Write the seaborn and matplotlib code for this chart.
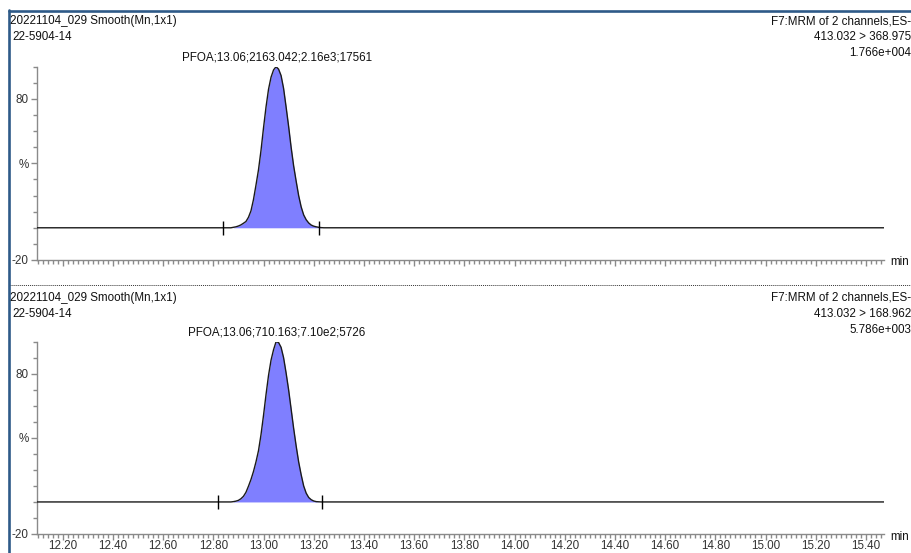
import matplotlib
matplotlib.use("Agg")
import matplotlib.pyplot as plt
from matplotlib.lines import Line2D
from matplotlib.ticker import MultipleLocator, FixedLocator, FixedFormatter, FormatStrFormatter
import pandas as pd
import seaborn as sns

# ---- chromatogram header text ----
sample_name = "20221104_029 Smooth(Mn,1x1)"
sample_id = "22-5904-14"
function_desc = "F7:MRM of 2 channels,ES-"
transitions = ["413.032 > 368.975", "413.032 > 168.962"]
max_intensity = ["1.766e+004", "5.786e+003"]
peak_labels = ["PFOA;13.06;2163.042;2.16e3;17561", "PFOA;13.06;710.163;7.10e2;5726"]

# ---- integration limits (min) ----
integration_start = [12.839, 12.820]
integration_end = [13.221, 13.234]

# ---- traces: retention time (min) vs relative intensity (%) ----
rt_min = [12.09,
          12.87, 12.88, 12.89, 12.90, 12.91, 12.92, 12.93, 12.94, 12.95, 12.96,
          12.97, 12.98, 12.99, 13.00, 13.01, 13.02, 13.03, 13.04, 13.05, 13.06,
          13.07, 13.08, 13.09, 13.10, 13.11, 13.12, 13.13, 13.14, 13.15, 13.16,
          13.17, 13.18, 13.19, 13.20, 13.21, 13.22, 13.23, 13.24,
          15.48]
pct_369 = [0.0,
           0.0, 0.3, 0.6, 1.1, 1.8, 2.8, 3.9, 6.5, 10.5, 17.5,
           26.5, 36.0, 48.0, 62.0, 75.0, 86.0, 93.5, 98.0, 100.0, 98.5,
           94.5, 86.5, 75.0, 63.0, 50.0, 38.5, 29.0, 20.0, 13.0, 8.0,
           5.0, 3.0, 1.7, 1.0, 0.6, 0.3, 0.1, 0.0,
           0.0]
pct_169 = [0.0,
           0.0, 0.2, 0.5, 1.0, 2.0, 3.5, 6.0, 9.8, 14.0, 19.0,
           25.0, 32.0, 42.0, 54.0, 67.0, 79.0, 88.5, 95.0, 100.0, 99.5,
           96.5, 90.0, 80.5, 70.0, 58.0, 46.0, 35.0, 25.0, 17.0, 10.0,
           5.5, 2.8, 1.4, 0.6, 0.2, 0.1, 0.0, 0.0,
           0.0]
traces = [pct_369, pct_169]

W, H = 912, 553
FRAME = "#2e5a88"
AXIS_GREY = "#8a8a8a"
FILL = "#7f7fff"
FONT = "Liberation Sans"
FS = 8.4

sns.set_style("ticks")
plt.rcParams["font.family"] = [FONT, "DejaVu Sans"]

fig = plt.figure(figsize=(W / 100, H / 100), dpi=100)


def fx(x):
    return x / W


def fy(y):
    return 1 - y / H


def panel(top_px, bottom_px, idx, show_xlabels):
    ax = fig.add_axes([fx(37), fy(bottom_px), (884 - 37) / W, (bottom_px - top_px) / H])
    ax.set_xlim(12.0976, 15.472)
    ax.set_ylim(-20, 100)
    ax.set_facecolor("none")

    df = pd.DataFrame({"rt": rt_min, "pct": traces[idx]})
    ax.fill_between(df["rt"], 0, df["pct"], where=df["pct"] > 0,
                    color=FILL, linewidth=0, zorder=1)
    sns.lineplot(data=df, x="rt", y="pct", ax=ax, color="#1a1a1a",
                 linewidth=1.0, estimator=None, sort=False, zorder=3)

    # integration markers
    ax.vlines([integration_start[idx], integration_end[idx]], -4.5, 4.5,
              color="black", linewidth=1.0, zorder=4)

    # peak annotation above the apex
    apex = df.loc[df["pct"].idxmax(), "rt"]
    ax.text(apex + 0.003, 105.5, peak_labels[idx], ha="center", va="center",
            fontsize=FS, color="#111111", clip_on=False)

    for side in ("top", "right"):
        ax.spines[side].set_visible(False)
    for side in ("left", "bottom"):
        ax.spines[side].set_color(AXIS_GREY)
        ax.spines[side].set_linewidth(1.0)

    ax.yaxis.set_major_locator(FixedLocator([-20, 40, 80]))
    ax.yaxis.set_major_formatter(FixedFormatter(["-20", "%", "80"]))
    ax.yaxis.set_minor_locator(MultipleLocator(10))
    ax.xaxis.set_major_locator(MultipleLocator(0.2))
    ax.xaxis.set_minor_locator(MultipleLocator(0.02))
    ax.xaxis.set_major_formatter(FormatStrFormatter("%.2f"))

    ax.tick_params(axis="both", which="both", direction="out", color=AXIS_GREY,
                   width=1.0, labelsize=FS, labelcolor="#333333",
                   left=True, bottom=True, top=False, right=False)
    ax.tick_params(axis="y", which="major", length=4.5, pad=1.5)
    ax.tick_params(axis="y", which="minor", length=3)
    ax.tick_params(axis="x", which="major", length=4.5, pad=0, labelbottom=show_xlabels)
    ax.tick_params(axis="x", which="minor", length=3)
    ax.set_xlabel("")
    ax.set_ylabel("")
    ax.grid(False)
    return ax


panel(66.7, 260, 0, False)
panel(341.7, 534, 1, True)

# header text for each channel
for idx, (y0, ymin) in enumerate([(21, 262), (298, 537)]):
    fig.text(fx(10), fy(y0), sample_name, ha="left", va="center", fontsize=FS, color="#111111")
    fig.text(fx(12), fy(y0 + 16), sample_id, ha="left", va="center", fontsize=FS, color="#111111")
    fig.text(fx(911), fy(y0), function_desc, ha="right", va="center", fontsize=FS, color="#111111")
    fig.text(fx(911), fy(y0 + 16), transitions[idx], ha="right", va="center", fontsize=FS, color="#111111")
    fig.text(fx(911), fy(y0 + 32), max_intensity[idx], ha="right", va="center", fontsize=FS, color="#111111")
    fig.text(fx(890), fy(ymin), "min", ha="left", va="center", fontsize=FS, color="#111111")

# dotted separator between the two channels
fig.add_artist(Line2D([fx(10), fx(912)], [fy(285), fy(285)], color="#333333",
                      linewidth=0.7, linestyle=(0, (1, 1))))

# window frame
fig.add_artist(Line2D([fx(9), fx(9)], [fy(10), fy(553)], color=FRAME, linewidth=1.9))
fig.add_artist(Line2D([fx(9), fx(912)], [fy(10.5), fy(10.5)], color=FRAME, linewidth=1.9))

fig.savefig("out.png", dpi=100, facecolor="white")
